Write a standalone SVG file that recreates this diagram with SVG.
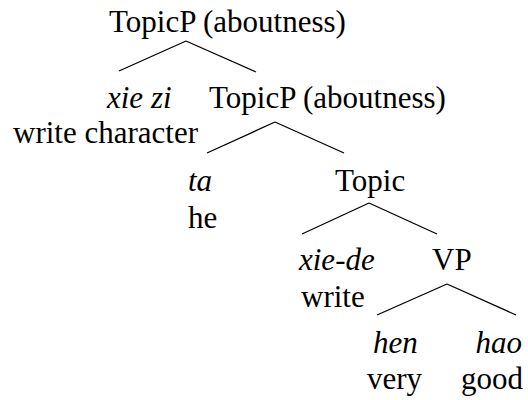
<svg xmlns="http://www.w3.org/2000/svg" width="528" height="400" viewBox="0 0 528 400" font-family="'Liberation Serif', 'DejaVu Serif', serif">
<style>
text{font-size:31px;fill:#000}
.it{font-style:italic}
.end{text-anchor:end}
.edge{stroke:#000;stroke-width:1.3;fill:none}
</style>
<rect width="528" height="400" fill="#fff"/>
<g id="connectors">
<line class="edge" x1="186" y1="41" x2="119" y2="71"/>
<line class="edge" x1="186" y1="41" x2="256" y2="72"/>
<line class="edge" x1="275" y1="122" x2="207" y2="153"/>
<line class="edge" x1="275" y1="122" x2="344" y2="153"/>
<line class="edge" x1="369" y1="203" x2="302" y2="234"/>
<line class="edge" x1="369" y1="203" x2="437" y2="234"/>
<line class="edge" x1="447" y1="284" x2="377" y2="315"/>
<line class="edge" x1="447" y1="284" x2="516" y2="315"/>
</g>
<g id="topicp1"><text x="109" y="32">TopicP (aboutness)</text></g>
<g id="xiezi"><text class="it" x="107" y="108">xie zi</text><text x="13" y="143">write character</text></g>
<g id="topicp2"><text x="209" y="108">TopicP (aboutness)</text></g>
<g id="ta"><text class="it" x="188" y="191">ta</text><text x="188" y="228">he</text></g>
<g id="topic"><text x="335" y="191">Topic</text></g>
<g id="xiede"><text class="it" x="299" y="270">xie-de</text><text x="301" y="307">write</text></g>
<g id="vp"><text x="432" y="270">VP</text></g>
<g id="hen"><text class="it" x="373" y="353">hen</text><text x="367" y="389">very</text></g>
<g id="hao"><text class="it end" x="522" y="353">hao</text><text class="end" x="523" y="389">good</text></g>
</svg>
